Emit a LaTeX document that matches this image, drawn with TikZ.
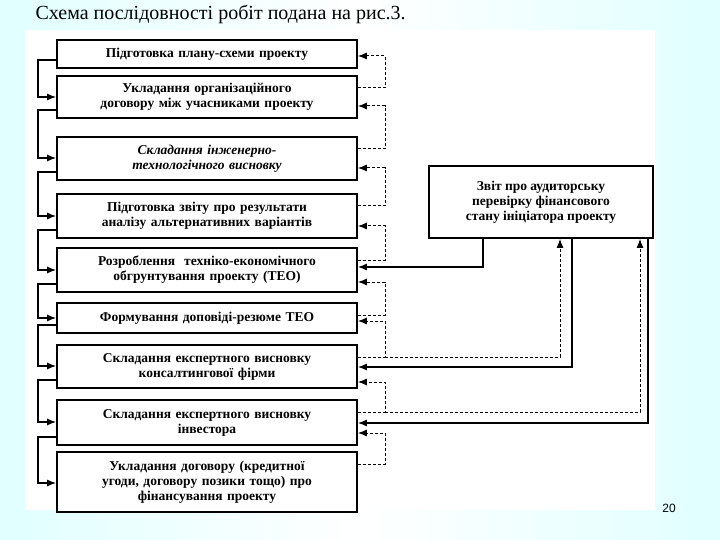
\documentclass[tikz,border=0pt]{standalone}
\usepackage{fontspec}
\setmainfont{Liberation Serif}
\newfontfamily\sansf{Liberation Sans}
\usetikzlibrary{arrows.meta}
\begin{document}
\begin{tikzpicture}[x=1pt,y=-1pt,
  bx/.style={draw,line width=1.8pt,fill=white,align=center,font=\bfseries\fontsize{13.5}{15}\selectfont,inner sep=1pt},
  sl/.style={line width=1.2pt,-{Latex[length=9pt,width=7pt]}},
  dl/.style={line width=1pt,dashed,dash pattern=on 3pt off 2pt,-{Latex[length=9pt,width=7pt]}}]
\useasboundingbox (0,0) rectangle (720,540);
\shade[left color=cyan!12!white,right color=cyan!12!white,middle color=white] (0,0) rectangle (720,540);
\fill[white] (25,30) rectangle (655,510);
\node[anchor=west,font=\fontsize{20}{22}\selectfont] (title) at (32,14) {Схема послідовності робіт подана на рис.3.};
\node[font=\sansf\fontsize{12}{13}\selectfont] (pg) at (669,508) {20};
% boxes
\foreach \n/\t/\b/\txt in {
 1/40/68/{Підготовка плану-схеми проекту},
 2/76/118/{Укладання організаційного\\договору між учасниками проекту},
 3/137/180/{\itshape Складання інженерно-\\технологічного висновку},
 4/194/238/{Підготовка звіту про результати\\аналізу альтернативних варіантів},
 5/248/292/{Розроблення\ \ техніко-економічного\\обгрунтування проекту (ТЕО)},
 6/303/333/{Формування доповіді-резюме ТЕО},
 7/345/388/{Складання експертного висновку\\консалтингової фірми},
 8/400/445/{Складання експертного висновку\\інвестора},
 9/452/512/{Укладання договору (кредитної\\угоди, договору позики тощо) про\\фінансування проекту}}
 {\node[bx,minimum width=300pt,minimum height={\b-\t},text width=296pt] (b\n) at (207,{(\t+\b)/2}) {\txt};}
\node[bx,minimum width=224pt,minimum height=72pt] (au) at (541,202) {Звіт про аудиторську\\перевірку фінансового\\стану ініціатора проекту};
% left solid connectors
\foreach \i/\j/\yo/\yi in {1/2/60/97,2/3/110/158,3/4/172/216,4/5/230/270,5/6/284/318,6/7/325/366,7/8/380/422,8/9/437/483}
 {\coordinate (lo\i) at (38,\yo); \coordinate (li\i) at (38,\yi);
  \draw[sl] (b\i.west |- lo\i) -- (lo\i) -- (li\i) -- (b\j.west |- li\i);}
% right dashed connectors
\foreach \i/\j/\yi/\yo in {1/2/56/88,2/3/106/149,3/4/168/206,4/5/226/260,5/6/282/315,6/7/321/357,7/8/382/412,8/9/433/464}
 {\coordinate (ri\i) at (385,\yi); \coordinate (ro\i) at (385,\yo);
  \draw[dl] (b\j.east |- ro\i) -- (ro\i) -- (ri\i) -- (b\i.east |- ri\i);}
% audit feedback
\coordinate (a1) at (483,267); \coordinate (a2) at (572,367); \coordinate (a3) at (648,423);
\draw[sl] (au.south -| a1) -- (a1) -- (b5.east |- a1);
\draw[sl] (au.south -| a2) -- (a2) -- (b7.east |- a2);
\draw[sl] (au.south -| a3) -- (a3) -- (b8.east |- a3);
\coordinate (d1) at (560,357); \coordinate (d2) at (640,412);
\draw[dl] (ro6) -- (d1) -- (au.south -| d1);
\draw[dl] (ro7) -- (d2) -- (au.south -| d2);
\end{tikzpicture}
\end{document}
